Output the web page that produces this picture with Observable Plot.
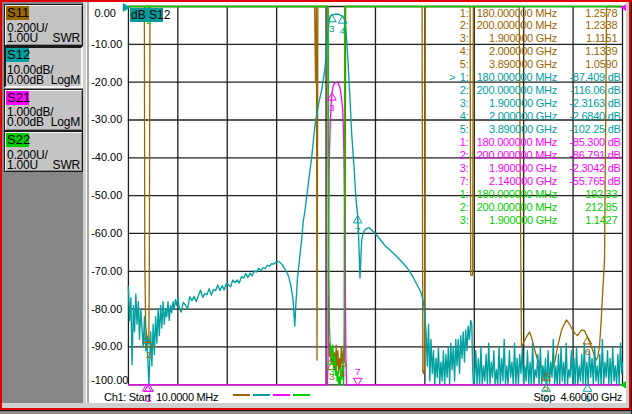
<!DOCTYPE html>
<html>
<head>
<meta charset="utf-8">
<script src="https://cdn.jsdelivr.net/npm/d3@7"></script>
<script src="https://cdn.jsdelivr.net/npm/@observablehq/plot@0.6"></script>
<style>
html,body{margin:0;padding:0;background:#c8c8c8;}
#win{position:relative;width:632px;height:414px;overflow:hidden;background:#c8c8c8;font-family:"Liberation Sans",Arial,sans-serif;color:#000;}
#win div,#win span{position:absolute;}
.btn{box-sizing:border-box;left:4px;width:79px;height:41px;background:#c4c4c4;border:1px solid #1c1c1c;box-shadow:inset 1px 1px 0 #f4f4f4,inset -1px -1px 0 #8a8a8a;}
.btn.sel{border:2px solid;border-color:#1c1c1c #f4f4f4 #f4f4f4 #1c1c1c;box-shadow:none;}
.lbl{left:6px;width:23px;height:14px;font-size:13px;line-height:14px;text-indent:1px;}
.bt{font-size:12px;line-height:12px;letter-spacing:-0.2px;white-space:pre;}
.ro{font-size:11px;line-height:13px;letter-spacing:-0.25px;white-space:pre;text-align:right;}
</style>
</head>
<body>
<div id="win"></div>
<script>
// ---------------- data ----------------
const startMHz = 10, stopMHz = 4600;
const xDivisions = [10, 469, 928, 1387, 1846, 2305, 2764, 3223, 3682, 4141, 4600];
const yTicks = [0, -10, -20, -30, -40, -50, -60, -70, -80, -90, -100];

// S11: [frequency MHz, SWR]  (0.200U/div, ref 1.00U)
const s11 = [
 [10,9],[150,9],[158,3.4],[162,1.65],[170,1.32],[180,1.2578],[190,1.21],[200,1.2338],[204,1.6],[210,9],
 [1740,9],[1748,2.6],[1756,9],[1762,1.13],[1770,9],
 [1862,9],[1868,1.24],[1876,1.15],[1884,1.22],[1892,1.12],[1900,1.1151],[1908,1.19],[1916,1.09],[1924,1.17],[1932,1.07],[1940,1.21],[1948,1.1],[1956,1.18],[1964,1.06],[1972,1.14],[1980,1.08],[1988,1.2],[1996,1.11],[2000,1.1339],[2008,1.2],[2016,1.12],[2022,1.3],[2028,9],
 [2738,9],[2745,1.07],[2752,1.06],[2760,1.08],[2767,9],
 [3184,9],[3190,1.58],[3208,1.58],[3214,9],
 [3640,9],[3661,1.2],[3707,1.253],[3738,1.28],[3760,1.24],[3784,1.185],[3812,1.13],[3850,1.095],[3877,1.07],[3890,1.059],[3915,1.058],[3939,1.063],[3970,1.12],[3997,1.2],[4034,1.29],[4078,1.343],[4109,1.32],[4136,1.29],[4160,1.27],[4183,1.26],[4200,1.275],[4220,1.29],[4248,1.285],[4276,1.25],[4300,1.215],[4322,1.185],[4340,1.15],[4356,1.13],[4372,1.15],[4387,1.21],[4400,1.32],[4412,1.45],[4433,1.66],[4445,2.5],[4452,9],[4600,9]
];

// S12: [frequency MHz, dB]  (10.00dB/div, ref 0.00dB)
const s12 = [
 [10,-74],[21,-83],[33,-77],[44,-94.7],[56,-79],[67,-86],[79,-76],[90,-84],[102,-78],[113,-88],[125,-80],[136,-85],[148,-90],[159,-82],[171,-91],[180,-87.409],[190,-93],[200,-116.06],[205,-96],[217,-86],[228,-95],[240,-84],[251,-92],[263,-82],[274,-89],[286,-80],[297,-87],[309,-79],[320,-85],[332,-78],[343,-84],[355,-80],[366,-82],[378,-78],[389,-83],[401,-79],[412,-81],[424,-78],[435,-80],[447,-77.5],[458,-79],[470,-77],
 [480,-79.3],[500,-80.8],[520,-78.2],[540,-78.9],[560,-79.9],[580,-76.7],[600,-77.8],[620,-76.7],[640,-78],[660,-76.4],[680,-75],[700,-76.9],[720,-75.9],[740,-76.2],[760,-74.6],[780,-76.3],[800,-74.8],[820,-75.1],[840,-73.6],[860,-75.1],[880,-73.8],[900,-74.9],[920,-73.2],[940,-73.6],[960,-74.1],[980,-72.3],[1000,-73],[1020,-72.3],[1040,-73.1],[1060,-71.4],[1080,-71.8],[1100,-70.6],[1120,-71.6],[1140,-70.5],[1160,-71.2],[1180,-69.9],[1200,-70.2],[1220,-69.2],[1240,-69.9],[1260,-69],[1280,-69.3],[1300,-68.4],[1320,-68.7],[1340,-68],[1360,-68.1],[1380,-67.6],[1400,-67.4],[1420,-67.7],[1440,-68.3],[1460,-69.2],[1480,-70.2],[1500,-71.5],[1520,-74],[1540,-77.6],[1555,-84.5],[1565,-79],[1580,-72],[1602,-66],[1620,-61.5],[1633,-57],[1651,-53.8],[1667,-50],[1682,-46.7],[1698,-43],[1713,-39.8],[1724,-36.5],[1735,-33.5],[1745,-31],[1760,-28.5],[1775,-26],[1790,-24],[1806,-22],[1822,-19],[1837,-16],[1845,-13],[1853,-10],[1860,-7.6],[1868,-5.5],[1876,-3.6],[1884,-2.6],[1900,-2.3163],[1915,-2.15],[1930,-2.05],[1945,-2.0],[1960,-2.05],[1975,-2.2],[1990,-2.45],[2000,-2.684],[2012,-3.1],[2022,-3.9],[2030,-6],[2038,-9],[2053,-16],[2069,-24.8],[2084,-33.5],[2106,-42.5],[2124,-51],[2140,-55.5],[2150,-62],[2161,-71.8],[2170,-66],[2177,-61.7],[2192,-59.8],[2208,-59],[2228,-58.6],[2248,-58.5],[2275,-59.2],[2316,-60.4],[2360,-62],[2400,-63.4],[2439,-64.4],[2500,-66],[2560,-67.8],[2610,-69.5],[2653,-71.5],[2690,-73.5],[2718,-75],[2735,-76.3],[2746,-77.6],[2755,-79.5],[2764,-82],
 [2775,-86],[2787,-95],[2798,-84],[2810,-99],[2821,-88],[2833,-97],[2844,-91],[2856,-101],[2867,-93],[2879,-98],[2890,-90],[2902,-102],[2913,-94],[2925,-99],[2936,-91],[2948,-103],[2959,-92],[2971,-98],[2982,-90],[2994,-101],[3005,-89],[3017,-96],[3028,-90],[3040,-99],[3051,-88],[3063,-95],[3074,-88],[3086,-97],[3097,-87],[3109,-93],[3120,-86],[3132,-94],[3143,-85.5],[3155,-91],[3166,-84.5],[3178,-88],[3190,-83],[3200,-84],[3208,-96],[3215,-104],
 [3225,-99],[3237,-91],[3249,-103],[3261,-93],[3273,-100],[3285,-90],[3297,-104],[3309,-95],[3321,-99],[3333,-92],[3345,-101],[3357,-89],[3369,-102],[3381,-94],[3393,-98],[3405,-91],[3417,-103],[3429,-96],[3441,-100],[3453,-90],[3465,-104],[3477,-93],[3489,-99],[3501,-88],[3513,-101],[3525,-95],[3537,-103],[3549,-91],[3561,-98],[3573,-94],[3585,-102],[3597,-89],[3609,-100],[3621,-93],[3633,-104],[3645,-92],[3657,-97],[3669,-90],[3681,-103],[3693,-95],[3705,-99],[3717,-91],[3729,-102],[3741,-94],[3753,-100],[3765,-89],[3777,-103],[3789,-96],[3801,-98],[3813,-92],[3825,-104],[3837,-90],[3849,-101],[3861,-95],[3873,-99],[3885,-93],[3890,-102.25],[3897,-100],[3909,-91],[3921,-103],[3933,-94],[3945,-98],[3957,-88],[3969,-102],[3981,-95],[3993,-100],[4005,-92],[4017,-104],[4029,-90],[4041,-99],[4053,-94],[4065,-101],[4077,-89],[4089,-103],[4101,-96],[4113,-98],[4125,-91],[4137,-102],[4149,-93],[4161,-100],[4173,-90],[4185,-104],[4197,-95],[4209,-99],[4221,-92],[4233,-103],[4245,-89],[4257,-100],[4269,-94],[4281,-101],[4293,-91],[4305,-98],[4317,-93],[4329,-104],[4341,-90],[4353,-99],[4365,-95],[4377,-102],[4389,-92],[4401,-100],[4413,-88],[4425,-103],[4437,-94],[4449,-98],[4461,-91],[4473,-101],[4485,-93],[4497,-104],[4509,-90],[4521,-99],[4533,-95],[4545,-102],[4557,-92],[4569,-100],[4581,-89],[4593,-97],[4600,-94]
];

// S21: [frequency MHz, dB]  (1.000dB/div, ref 0.00dB)
const s21 = [
 [10,-62],[180,-85.3],[200,-86.791],[600,-75],[1200,-66],[1600,-45],[1800,-22],[1850,-14],[1858,-11],[1864,-9.4],[1868,-6.6],[1873,-4.6],[1878,-3.8],[1885,-3.1],[1893,-2.6],[1900,-2.3042],[1910,-2.12],[1925,-2.03],[1945,-2.0],[1960,-2.04],[1976,-2.15],[1990,-2.42],[2001,-2.75],[2006,-3.2],[2012,-3.9],[2018,-5.1],[2024,-7],[2030,-9.2],[2036,-12],[2080,-32],[2140,-55.765],[2400,-68],[3000,-88],[4600,-95]
];

// S22: [frequency MHz, SWR]  (0.200U/div, ref 1.00U)
const s22 = [
 [10,200],[180,192.33],[200,212.85],[1000,120],[1860,15],[1866,3.6],[1872,1.6],[1878,1.3],[1884,1.22],[1890,1.17],[1896,1.2],[1900,1.1427],[1907,1.21],[1914,1.13],[1921,1.08],[1928,1.15],[1935,1.05],[1942,1.1],[1949,1.02],[1956,1.07],[1963,1.0],[1970,1.04],[1977,0.99],[1984,1.08],[1991,1.03],[1998,1.1],[2004,1.05],[2009,1.0],[2014,1.3],[2019,3.5],[2030,20],[3000,150],[4600,200]
];

// markers: [number, frequency MHz, value]
const s11Markers = [[1,180,1.2578],[2,200,1.2338],[3,1900,1.1151],[4,2000,1.1339],[5,3890,1.059],[6,4275,1.25]];
const s12Markers = [[1,180,-87.409],[2,200,-116.06],[3,1900,-2.3163],[4,2000,-2.684],[5,3890,-102.25],[6,4275,-101],[7,2140,-55.5]];
const s21Markers = [[1,180,-85.3],[2,200,-86.791],[3,1900,-2.3042],[7,2140,-55.765]];
const s22Markers = [[1,180,192.33],[2,200,212.85],[3,1900,1.1427]];

// readout table
const readS11 = [["1:","180.000000 MHz","1.2578"],["2:","200.000000 MHz","1.2338"],["3:","1.900000 GHz","1.1151"],["4:","2.000000 GHz","1.1339"],["5:","3.890000 GHz","1.0590"]];
const readS12 = [["1:","180.000000 MHz","-87.409 dB"],["2:","200.000000 MHz","-116.06 dB"],["3:","1.900000 GHz","-2.3163 dB"],["4:","2.000000 GHz","-2.6840 dB"],["5:","3.890000 GHz","-102.25 dB"]];
const readS21 = [["1:","180.000000 MHz","-85.300 dB"],["2:","200.000000 MHz","-86.791 dB"],["3:","1.900000 GHz","-2.3042 dB"],["7:","2.140000 GHz","-55.765 dB"]];
const readS22 = [["1:","180.000000 MHz","192.33"],["2:","200.000000 MHz","212.85"],["3:","1.900000 GHz","1.1427"]];

const channelNames = ["S11","S12","S21","S22"];
const channelScale = [["0.200U/","1.00U","SWR"],["10.00dB/","0.00dB","LogM"],["1.000dB/","0.00dB","LogM"],["0.200U/","1.00U","SWR"]];

// ---------------- styles ----------------
const brown = "#9a6600", teal = "#00a0a0", magenta = "#ff00ff", green = "#00cc00";
const colors = [brown, teal, magenta, green];

// ---------------- trace scaling into the S12 graticule ----------------
const clamp = (v, lo, hi) => Math.max(lo, Math.min(hi, v));
const ySWR = v => (clamp(v, 1, 3) - 1) / 0.2 * 10 - 100;   // ref 1.00U at bottom, 0.2U/div
const yS12 = v => clamp(v, -100, 0);                       // ref 0 dB at top, 10 dB/div
const yS21 = v => clamp(v, -10, 0) * 10;                   // ref 0 dB at top, 1 dB/div

// markers 1 and 2 sit on top of each other; only one number is readable there
function markerMarks(data, fy, color, opts = {}) {
  const labelled = data.filter(d => d[0] !== 1 && !(opts.hide || []).includes(d[0]));
  return [
    Plot.dot(data, {x: d => d[1], y: d => fy(d[2]), symbol: "triangle", r: 3.2, stroke: color, fill: "none", strokeWidth: 1, dy: opts.flip ? -4 : 4, rotate: opts.flip ? 180 : 0}),
    Plot.text(labelled, {x: d => d[1], y: d => fy(d[2]), text: d => String(d[0]), fill: color, fontSize: 10, dy: opts.flip ? -13 : 14})
  ];
}

const plot = Plot.plot({
  width: 540, height: 404,
  marginLeft: 40, marginRight: 5, marginTop: 6, marginBottom: 19,
  x: {domain: [startMHz, stopMHz], axis: null},
  y: {domain: [-100, 0], axis: null},
  style: {background: "#fff", fontFamily: "'Liberation Sans', Arial, sans-serif", fontSize: "11px", color: "#000", overflow: "visible"},
  marks: [
    Plot.gridX(xDivisions, {stroke: "#202020", strokeOpacity: 1, strokeWidth: 1.3}),
    Plot.gridY(yTicks, {stroke: "#202020", strokeOpacity: 1, strokeWidth: 1.3}),
    Plot.line(s11, {x: d => d[0], y: d => ySWR(d[1]), stroke: brown, strokeWidth: 1.3}),
    Plot.line(s12, {x: d => d[0], y: d => yS12(d[1]), stroke: teal, strokeWidth: 1.35}),
    Plot.line(s21, {x: d => d[0], y: d => yS21(d[1]), stroke: magenta, strokeWidth: 1.3}),
    Plot.line(s22, {x: d => d[0], y: d => ySWR(d[1]), stroke: green, strokeWidth: 1.3}),
    ...markerMarks(s11Markers, ySWR, brown),
    ...markerMarks(s12Markers, yS12, teal, {hide: [2]}),
    ...markerMarks(s21Markers.filter(d => d[0] !== 7), yS21, magenta),
    ...markerMarks(s21Markers.filter(d => d[0] === 7), yS21, magenta, {flip: true}),
    ...markerMarks(s22Markers, ySWR, green),
    // reference-position arrows
    Plot.dot([0], {x: () => startMHz, y: () => 0, symbol: "triangle", rotate: 90, r: 3.4, fill: teal, stroke: "none", dx: -3, dy: 1}),
    Plot.dot([0], {x: () => stopMHz, y: () => 0, symbol: "triangle", rotate: -90, r: 3.4, fill: magenta, stroke: "none", dx: 3, dy: 1}),
    Plot.dot([0], {x: () => stopMHz, y: () => -100, symbol: "triangle", rotate: -90, r: 3.8, fill: green, stroke: "none", dx: 3}),
    // y tick labels
    Plot.text(yTicks.filter(v => v !== 0 && v !== -100), {y: d => d, frameAnchor: "left", text: d => d.toFixed(2), textAnchor: "start", dx: -37.3, fill: "#000", fontSize: 11}),
    Plot.text([0], {y: d => d, frameAnchor: "left", text: d => d.toFixed(2), textAnchor: "start", dx: -34, dy: 7, fill: "#000", fontSize: 11}),
    Plot.text([-100], {y: d => d, frameAnchor: "left", text: d => d.toFixed(2), textAnchor: "start", dx: -37.3, dy: -4, fill: "#000", fontSize: 11})
  ]
});

// ---------------- page layout ----------------
const win = document.getElementById("win");
function el(cls, style, text) {
  const d = document.createElement("div");
  if (cls) d.className = cls;
  Object.assign(d.style, style);
  if (text != null) d.textContent = text;
  win.appendChild(d);
  return d;
}

// left panel
el(null, {left: "0px", top: "0px", width: "84px", height: "404px", background: "#878587"});
const btnTops = [4, 46, 88.5, 131];
channelNames.forEach((name, i) => {
  const T = btnTops[i];
  el("btn" + (i === 1 ? " sel" : ""), {top: T + "px", height: (i === 3 ? 41 : 42) + "px"});
  el("lbl", {top: (T + 2) + "px", background: colors[i]}, name);
  el("bt", {left: "7px", top: (T + 17.5) + "px"}, channelScale[i][0]);
  el("bt", {left: "7px", top: (T + 27.5) + "px"}, channelScale[i][1]);
  el("bt", {left: "50px", width: "30px", textAlign: "right", top: (T + 27.5) + "px"}, channelScale[i][2]);
});
// separator between panel and graticule
el(null, {left: "83px", top: "0px", width: "3px", height: "404px", background: "#cfcfcf"});
el(null, {left: "86px", top: "0px", width: "1px", height: "404px", background: "#ffffff"});
el(null, {left: "87px", top: "0px", width: "2px", height: "404px", background: "#a6a6a6"});

// plot
const plotDiv = el(null, {left: "89px", top: "0px", width: "539px", height: "404px", overflow: "hidden", background: "#fff"});
plot.style.position = "absolute";
plot.style.left = "-1px";
plot.style.top = "0px";
plotDiv.appendChild(plot);

// active trace label
el(null, {left: "130px", top: "8px", width: "33px", height: "14px", background: "#009c9c", fontSize: "12px", lineHeight: "14px", textIndent: "1px", whiteSpace: "pre"}, "dB S12");

// marker readout
const readGroups = [[readS11, brown, 617.3], [readS12, teal, 620.7], [readS21, magenta, 620.7], [readS22, green, 617.3]];
let row = 0;
readGroups.forEach(([rows, color, valEnd], gi) => {
  rows.forEach((r, ri) => {
    const cy = 13.3 + row * 12.96;
    const top = (cy - 6.8) + "px";
    el("ro", {right: (632 - 468.5) + "px", top, color}, r[0]);
    el("ro", {right: (632 - 557) + "px", top, color}, r[1]);
    el("ro", {right: (632 - valEnd) + "px", top, color}, r[2]);
    if (gi === 1 && ri === 0) el("ro", {left: "449px", top, color}, ">");
    row++;
  });
});

// bottom status line
el(null, {left: "104px", top: "390px", fontSize: "11px", lineHeight: "14px", letterSpacing: "-0.3px", whiteSpace: "pre"}, "Ch1: Start  10.0000 MHz");
el(null, {right: "10px", top: "390px", fontSize: "11px", lineHeight: "14px", letterSpacing: "-0.3px", whiteSpace: "pre"}, "Stop  4.60000 GHz");
colors.forEach((c, i) => el(null, {left: (232.5 + i * 20) + "px", top: "394px", width: "17px", height: "2px", background: c}));

// window frame
el(null, {left: "0px", top: "403px", width: "632px", height: "5px", background: "#cfcfcf"});
el(null, {left: "0px", top: "408px", width: "632px", height: "2px", background: "#e00000"});
el(null, {left: "0px", top: "410px", width: "632px", height: "1px", background: "#111"});
el(null, {left: "0px", top: "411px", width: "632px", height: "3px", background: "#8a8a8a"});
el(null, {left: "626px", top: "0px", width: "3px", height: "408px", background: "#cfcfcf"});
el(null, {left: "629px", top: "0px", width: "2px", height: "410px", background: "#e00000"});
el(null, {left: "631px", top: "0px", width: "1px", height: "414px", background: "#222"});
el(null, {left: "84px", top: "0px", width: "545px", height: "2px", background: "#cfcfcf"});
el(null, {left: "0px", top: "0px", width: "632px", height: "1.5px", background: "#e00000"});
el(null, {left: "0px", top: "0px", width: "1.5px", height: "410px", background: "#e00000"});
</script>
</body>
</html>
